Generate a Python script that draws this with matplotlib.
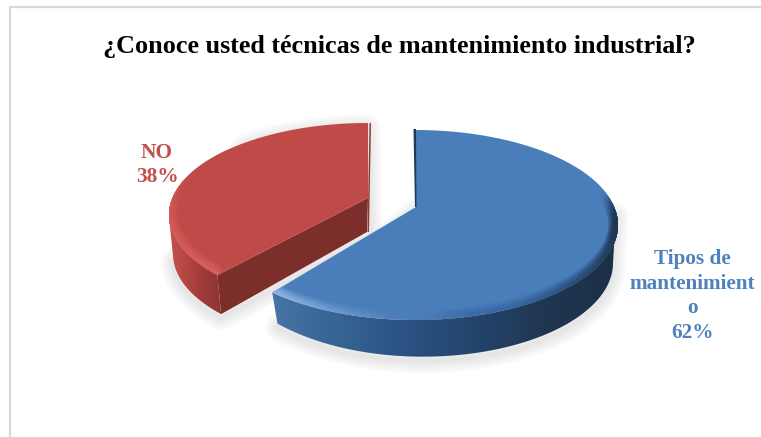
"""Exploded 3D-style pie: knowledge of industrial maintenance techniques."""

import matplotlib.pyplot as plt
import numpy as np
from matplotlib.collections import LineCollection
from matplotlib.colors import LinearSegmentedColormap, to_rgb
from matplotlib.patches import Polygon

TITLE = "¿Conoce usted técnicas de mantenimiento industrial?"
CATEGORIES = ["Tipos de\nmantenimient\no", "NO"]
PERCENTS = [62, 38]
LABEL_COLORS = ["#4F81BD", "#C0504D"]

W, H = 761, 437
SERIF = ["Liberation Serif", "DejaVu Serif"]


def rim(cx, cy, rx, ry, a0, a1, n=200):
    """Ellipse arc, angles clockwise from twelve o'clock, in pixels."""
    t = np.radians(np.linspace(a0, a1, n))
    return np.column_stack([cx + rx * np.sin(t), cy - ry * np.cos(t)])


def gradient_fill(ax, poly, stops, zorder):
    """Left-to-right colour gradient clipped to a polygon."""
    x0, x1 = poly[:, 0].min(), poly[:, 0].max()
    y0, y1 = poly[:, 1].min(), poly[:, 1].max()
    cmap = LinearSegmentedColormap.from_list("side", stops)
    im = ax.imshow(np.linspace(0, 1, 256)[None, :], cmap=cmap, aspect="auto",
                   extent=(x0, x1, y1, y0), zorder=zorder, interpolation="bilinear")
    clip = Polygon(poly, closed=True, transform=ax.transData, fc="none", ec="none")
    ax.add_patch(clip)
    im.set_clip_path(clip)


def soft_shadow(ax, poly, zorder):
    """Grey halo built from stacked translucent outlines."""
    shifted = poly + np.array([0, 4])
    for lw in np.arange(18, 1, -3):
        ax.add_patch(Polygon(shifted, closed=True, fc="none", ec="#8c8c8c",
                             lw=lw, alpha=0.035, joinstyle="round", zorder=zorder))


def bevel(ax, arc, clip, colors, zorder):
    """Soft rounded edge along an arc of the top face."""
    segs = np.stack([arc[:-1], arc[1:]], axis=1)
    for lw, alpha in [(14, 0.08), (10, 0.12), (6, 0.16), (3, 0.22)]:
        rgba = colors[:-1].copy()
        rgba[:, 3] *= alpha
        lc = LineCollection(segs, colors=rgba, linewidths=lw, zorder=zorder, capstyle="round")
        ax.add_collection(lc)
        lc.set_clip_path(clip)


def fade(arc_len, stops):
    """RGBA ramp along an arc from (position, colour, strength) stops."""
    pos = np.linspace(0, 1, arc_len)
    px = [s[0] for s in stops]
    rgb = np.array([to_rgb(s[1]) for s in stops])
    strength = np.interp(pos, px, [s[2] for s in stops])
    return np.column_stack([np.interp(pos, px, rgb[:, i]) for i in range(3)] + [strength])


def main():
    fig = plt.figure(figsize=(W / 100, H / 100), dpi=100, facecolor="white")
    ax = fig.add_axes([0, 0, 1, 1])
    ax.set_xlim(0, W)
    ax.set_ylim(H, 0)
    ax.axis("off")

    # chart frame, only the left and top edges are in view
    ax.plot([9.5, 9.5, W], [H, 7, 7], color="#d9d9d9", lw=1.6, zorder=1)

    split = 360 * PERCENTS[0] / sum(PERCENTS)
    blue_end = split + 1.5   # perspective skews the slice boundary a little
    red_start = split + 6

    # blue slice
    top = rim(415, 225, 203, 95, 0, blue_end)
    apex = np.array([[416, 207]])
    low = rim(416, 263, 197, 95, 90, blue_end)
    low[:, 1] -= np.linspace(0, 1, len(low)) ** 4 * 7
    side_top = rim(415, 225, 203, 95, 82, blue_end)
    blue_side = np.vstack([side_top, low[::-1]])
    blue_top = np.vstack([apex, top])

    soft_shadow(ax, np.vstack([side_top[:1], low, [[416, 207]]]), 2)
    gradient_fill(ax, blue_side,
                  ["#4674A6", "#366392", "#2A5182", "#24436B", "#1F3650", "#1C2F47"], 4)
    blue_patch = Polygon(blue_top, closed=True, fc="#4A7EBB", ec="none", zorder=5)
    ax.add_patch(blue_patch)
    ax.fill([413.5, 416, 416.5, 415], [129, 129, 207, 207], color="#1F3A5C", zorder=6, lw=0)
    arc = rim(415, 225, 203, 95, 72, blue_end)
    bevel(ax, arc, blue_patch,
          fade(len(arc), [(0, "#20364F", 0.0), (0.14, "#20364F", 0.9), (0.4, "#2A4F7C", 0.5),
                          (0.62, "#3F6FA8", 0.2), (0.85, "#7CA8DA", 0.5), (1, "#9CC2EC", 0.8)]), 7)

    # red slice, pulled out to the upper left
    red_top = np.vstack([[[368, 198]], rim(368, 215, 199, 92, red_start, 360)])
    red_arc = rim(368, 215, 199, 92, red_start, 320)
    red_low = rim(371, 254, 198, 92, red_start, 268)
    red_side = np.vstack([rim(368, 215, 199, 92, red_start, 268), red_low[::-1]])
    cut_face = np.array([[368, 198], red_top[1], red_low[0], [367, 232]])

    soft_shadow(ax, np.vstack([red_top[-1:], [[370, 232]], red_low, red_top[::-1][:60]]), 2)
    gradient_fill(ax, red_side, ["#C4524F", "#B54643", "#9C3A37", "#8E3532"], 4)
    ax.add_patch(Polygon(cut_face, closed=True, fc="#7C2E2B", ec="none", zorder=4))
    red_patch = Polygon(red_top, closed=True, fc="#BE4B48", ec="none", zorder=5)
    ax.add_patch(red_patch)
    ax.fill([369.5, 371, 369, 367.5], [123, 123, 232, 232], color="#8F3A37", zorder=4, lw=0)
    bevel(ax, red_arc, red_patch,
          fade(len(red_arc), [(0, "#DE6662", 0.7), (0.45, "#D85E5A", 0.7), (1, "#C85451", 0.0)]), 7)

    ax.text(399, 46.5, TITLE, ha="center", va="center", family=SERIF,
            fontweight="bold", fontsize=18.8, color="black", zorder=10)

    # data labels
    label_pos = [(692, 296), (157, 165)]
    for name, pct, color, (x, y) in zip(CATEGORIES, PERCENTS, LABEL_COLORS, label_pos):
        ax.text(x, y, f"{name}\n{pct}%", ha="center", va="center", family=SERIF,
                fontweight="bold", fontsize=15.3, color=color, linespacing=1.33, zorder=10)

    ax.set_xlim(0, W)
    ax.set_ylim(H, 0)
    fig.savefig("out.png", dpi=100)
    plt.close(fig)


if __name__ == "__main__":
    main()
